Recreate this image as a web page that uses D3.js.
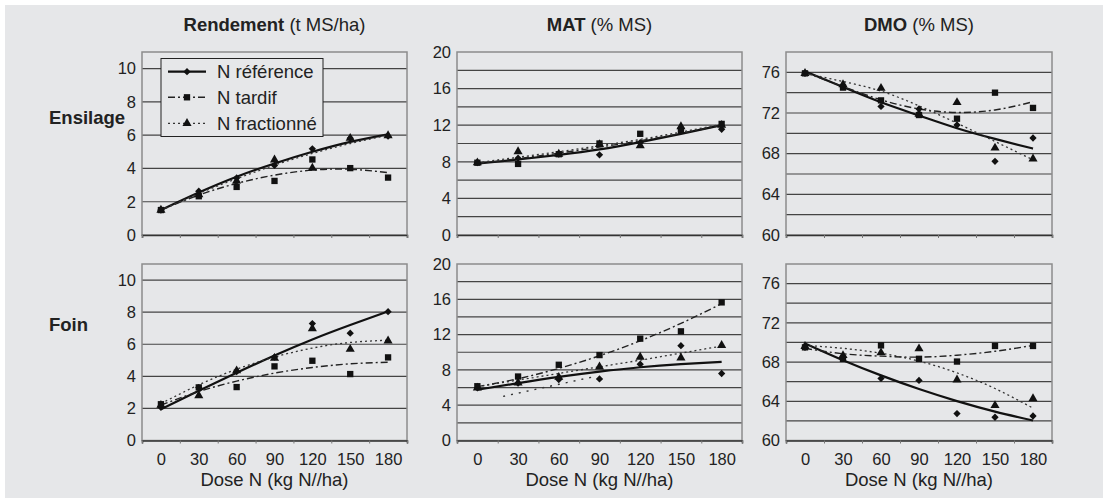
<!DOCTYPE html>
<html>
<head>
<meta charset="utf-8">
<title>Dose N - ensilage et foin</title>
<script src="https://cdn.jsdelivr.net/npm/d3@7"></script>
<style>
  body { margin: 0; background: #fff; }
  svg text { font-family: "Liberation Sans", Arial, sans-serif; fill: #222; }
</style>
</head>
<body>
<script>
// ---- data ----
const doses = [0, 30, 60, 90, 120, 150, 180];
const seriesNames = ["N référence", "N tardif", "N fractionné"];
const rowNames = ["Ensilage", "Foin"];
const colTitles = [["Rendement", " (t MS/ha)"], ["MAT", " (% MS)"], ["DMO", " (% MS)"]];
const xTitle = "Dose N (kg N//ha)";

const yDomains = [[0, 11], [0, 20], [60, 78]];
const yGrid = [[2, 4, 6, 8, 10], [2, 4, 6, 8, 10, 12, 14, 16, 18], [62, 64, 66, 68, 70, 72, 74, 76]];
const yLabels = [[0, 2, 4, 6, 8, 10], [0, 4, 8, 12, 16, 20], [60, 64, 68, 72, 76]];

// Ensilage
const ensRendRef  = [1.5, 2.63, 3.43, 4.18, 5.18, 5.82, 5.94];
const ensRendTard = [1.5, 2.33, 2.89, 3.25, 4.54, 4.02, 3.45];
const ensRendFrac = [1.5, 2.43, 3.25, 4.52, 4.02, 5.82, 5.98];
const ensRendRefFit  = [1.5, 2.55, 3.5, 4.3, 5.0, 5.6, 6.05];
const ensRendTardFit = [1.5, 2.4, 3.1, 3.6, 3.9, 3.95, 3.75];
const ensRendFracFit = [1.5, 2.5, 3.38, 4.2, 4.9, 5.5, 6.0];

const ensMatRef  = [7.9, 8.4, 8.83, 8.76, 10.1, 11.7, 11.56];
const ensMatTard = [7.9, 7.77, 8.83, 10.0, 11.06, 11.4, 12.14];
const ensMatFrac = [7.9, 9.12, 8.85, 9.9, 9.78, 11.85, 12.0];
const ensMatRefFit  = [7.8, 8.25, 8.75, 9.35, 10.15, 11.05, 12.0];
const ensMatTardFit = [7.8, 8.35, 8.95, 9.6, 10.3, 11.1, 12.0];
const ensMatFracFit = [7.9, 8.5, 9.1, 9.75, 10.45, 11.25, 12.1];

const ensDmoRef  = [75.9, 74.6, 72.65, 72.4, 70.82, 67.25, 69.54];
const ensDmoTard = [75.9, 74.5, 73.24, 71.8, 71.44, 74.0, 72.5];
const ensDmoFrac = [75.9, 74.8, 74.44, 71.9, 73.04, 68.56, 67.5];
const ensDmoRefFit  = [76.1, 74.55, 73.05, 71.75, 70.5, 69.45, 68.5];
const ensDmoTardFit = [76.0, 74.6, 73.3, 72.4, 72.05, 72.3, 73.1];
const ensDmoFracFit = [75.9, 75.1, 74.15, 72.7, 71.0, 69.2, 67.4];

// Foin
const foinRendRef  = [2.07, 3.3, 4.29, 5.2, 7.29, 6.69, 8.03];
const foinRendTard = [2.26, 3.31, 3.33, 4.62, 4.97, 4.14, 5.18];
const foinRendFrac = [2.2, 2.8, 4.35, 5.13, 6.98, 5.69, 6.21];
const foinRendRefFit  = [1.95, 3.1, 4.22, 5.3, 6.3, 7.2, 8.05];
const foinRendTardFit = [2.2, 3.05, 3.7, 4.2, 4.55, 4.78, 4.88];
const foinRendFracFit = [2.3, 3.47, 4.44, 5.2, 5.76, 6.11, 6.25];

const foinMatRef  = [5.96, 6.5, 6.9, 6.98, 8.65, 10.74, 7.59];
const foinMatTard = [6.15, 7.25, 8.58, 9.68, 11.54, 12.37, 15.65];
const foinMatFrac = [5.96, 6.53, 7.17, 8.35, 9.45, 9.37, 10.78];
const foinMatRefFit  = [5.75, 6.5, 7.2, 7.8, 8.3, 8.65, 8.9];
const foinMatTardFit = [6.1, 7.0, 8.17, 9.6, 11.3, 13.27, 15.5];
const foinMatFracFit = [6.1, 6.85, 7.6, 8.35, 9.1, 9.9, 10.7];
// stray dotted segment visible in the MAT / Foin panel
const foinMatStrayX = [19, 88];
const foinMatStrayY = [5.0, 7.3];

const foinDmoRef  = [69.5, 68.5, 66.33, 66.13, 62.75, 62.37, 62.5];
const foinDmoTard = [69.5, 68.33, 69.7, 68.33, 68.05, 69.64, 69.64];
const foinDmoFrac = [69.6, 68.67, 68.95, 69.36, 66.19, 63.58, 64.27];
const foinDmoRefFit  = [69.9, 68.19, 66.64, 65.25, 64.02, 62.95, 62.04];
const foinDmoTardFit = [69.4, 68.85, 68.6, 68.5, 68.7, 69.1, 69.7];
const foinDmoFracFit = [69.7, 69.4, 68.9, 68.1, 66.9, 65.3, 63.3];

const panels = [
  {row: 0, col: 0, pts: [ensRendRef, ensRendTard, ensRendFrac], fits: [ensRendRefFit, ensRendTardFit, ensRendFracFit]},
  {row: 0, col: 1, pts: [ensMatRef, ensMatTard, ensMatFrac], fits: [ensMatRefFit, ensMatTardFit, ensMatFracFit]},
  {row: 0, col: 2, pts: [ensDmoRef, ensDmoTard, ensDmoFrac], fits: [ensDmoRefFit, ensDmoTardFit, ensDmoFracFit]},
  {row: 1, col: 0, pts: [foinRendRef, foinRendTard, foinRendFrac], fits: [foinRendRefFit, foinRendTardFit, foinRendFracFit]},
  {row: 1, col: 1, pts: [foinMatRef, foinMatTard, foinMatFrac], fits: [foinMatRefFit, foinMatTardFit, foinMatFracFit],
   stray: foinMatStrayX.map((d, i) => [d, foinMatStrayY[i]])},
  {row: 1, col: 2, pts: [foinDmoRef, foinDmoTard, foinDmoFrac], fits: [foinDmoRefFit, foinDmoTardFit, foinDmoFracFit]}
];

// ---- layout ----
const W = 1108, H = 503;
const colX = [[142, 407], [457, 742], [786, 1052]];
const rowY = [[52, 235], [264, 440.5]];
const bg = "#e6e7e9";

const lineStyle = [
  {w: 2.2, dash: null, color: "#111"},
  {w: 1.4, dash: "7,3,2,3", color: "#222"},
  {w: 1.3, dash: "2,3", color: "#333"}
];
const symbols = [
  d3.symbol().type(d3.symbolDiamond2).size(34),
  d3.symbol().type(d3.symbolSquare).size(40),
  d3.symbol().type(d3.symbolTriangle).size(36)
];

const svg = d3.select("body").append("svg")
  .attr("width", W)
  .attr("height", H);

svg.append("rect")
  .attr("x", 5).attr("y", 5)
  .attr("width", W - 10).attr("height", H - 10)
  .attr("fill", bg);

panels.forEach(p => {
  const x = d3.scaleLinear().domain([-15, 195]).range(colX[p.col]);
  const y = d3.scaleLinear().domain(yDomains[p.col]).range([rowY[p.row][1], rowY[p.row][0]]);
  const g = svg.append("g");

  // horizontal grid
  g.selectAll(".grid").data(yGrid[p.col]).join("line")
    .attr("x1", x.range()[0]).attr("x2", x.range()[1])
    .attr("y1", d => y(d)).attr("y2", d => y(d))
    .attr("stroke", "#444").attr("stroke-width", 1.2);

  // frame
  g.append("rect")
    .attr("x", x.range()[0]).attr("y", y.range()[1])
    .attr("width", x.range()[1] - x.range()[0])
    .attr("height", y.range()[0] - y.range()[1])
    .attr("fill", "none").attr("stroke", "#8c8c8c").attr("stroke-width", 1.5);

  // bottom axis with small ticks
  const xAxis = g.append("g")
    .attr("transform", `translate(0,${y.range()[0]})`)
    .call(d3.axisBottom(x).tickValues(d3.range(-15, 196, 30)).tickSize(3).tickFormat(""));
  xAxis.select(".domain").attr("stroke", "#333").attr("stroke-width", 1.6);
  xAxis.selectAll(".tick line").attr("stroke", "#777");

  if (p.row === 1) {
    const lab = g.append("g")
      .attr("transform", `translate(0,${y.range()[0]})`)
      .call(d3.axisBottom(x).tickValues(doses).tickSize(0).tickPadding(13));
    lab.select(".domain").remove();
    lab.selectAll("text").style("font-size", "16.5px").attr("fill", "#222");

    g.append("text")
      .attr("x", (x.range()[0] + x.range()[1]) / 2)
      .attr("y", 486)
      .attr("text-anchor", "middle")
      .style("font-size", "18.5px")
      .text(xTitle);
  }

  // left labels
  const yAxis = g.append("g")
    .attr("transform", `translate(${x.range()[0]},0)`)
    .call(d3.axisLeft(y).tickValues(yLabels[p.col]).tickSize(0).tickPadding(6));
  yAxis.select(".domain").remove();
  yAxis.selectAll("text").style("font-size", "16.5px").attr("fill", "#222");

  // trend lines
  const line = d3.line().x(d => x(d[0])).y(d => y(d[1])).curve(d3.curveNatural);
  p.fits.forEach((f, i) => {
    g.append("path")
      .attr("d", line(doses.map((d, j) => [d, f[j]])))
      .attr("fill", "none")
      .attr("stroke", lineStyle[i].color)
      .attr("stroke-width", lineStyle[i].w)
      .attr("stroke-dasharray", lineStyle[i].dash);
  });
  if (p.stray) {
    g.append("path")
      .attr("d", d3.line().x(d => x(d[0])).y(d => y(d[1]))(p.stray))
      .attr("fill", "none").attr("stroke", "#333")
      .attr("stroke-width", 1.4).attr("stroke-dasharray", "2,6");
  }

  // markers
  [0, 2, 1].forEach(i => {
    g.selectAll(null).data(doses.map((d, j) => [d, p.pts[i][j]])).join("path")
      .attr("d", symbols[i])
      .attr("transform", d => `translate(${x(d[0])},${y(d[1])})`)
      .attr("fill", "#111");
  });
});

// column titles
colTitles.forEach((t, c) => {
  const tx = svg.append("text")
    .attr("x", (colX[c][0] + colX[c][1]) / 2)
    .attr("y", 31)
    .attr("text-anchor", "middle")
    .style("font-size", "18.5px");
  tx.append("tspan").attr("font-weight", "bold").text(t[0]);
  tx.append("tspan").text(t[1]);
});

// row titles
rowNames.forEach((r, i) => {
  svg.append("text")
    .attr("x", 49)
    .attr("y", i === 0 ? 124 : 331)
    .attr("font-weight", "bold")
    .style("font-size", "18.5px")
    .text(r);
});

// legend inside the first panel
const leg = svg.append("g");
leg.append("rect")
  .attr("x", 161).attr("y", 58.5)
  .attr("width", 162).attr("height", 78)
  .attr("fill", bg).attr("stroke", "#222").attr("stroke-width", 1);
const legY = [71.7, 97.3, 123.3];
seriesNames.forEach((s, i) => {
  leg.append("line")
    .attr("x1", 168).attr("x2", 206)
    .attr("y1", legY[i]).attr("y2", legY[i])
    .attr("stroke", lineStyle[i].color)
    .attr("stroke-width", lineStyle[i].w)
    .attr("stroke-dasharray", lineStyle[i].dash);
  leg.append("path")
    .attr("d", symbols[i])
    .attr("transform", `translate(187,${legY[i]})`)
    .attr("fill", "#111");
  leg.append("text")
    .attr("x", 217).attr("y", legY[i])
    .attr("dy", "0.35em")
    .style("font-size", "18.5px")
    .text(s);
});
</script>
</body>
</html>
